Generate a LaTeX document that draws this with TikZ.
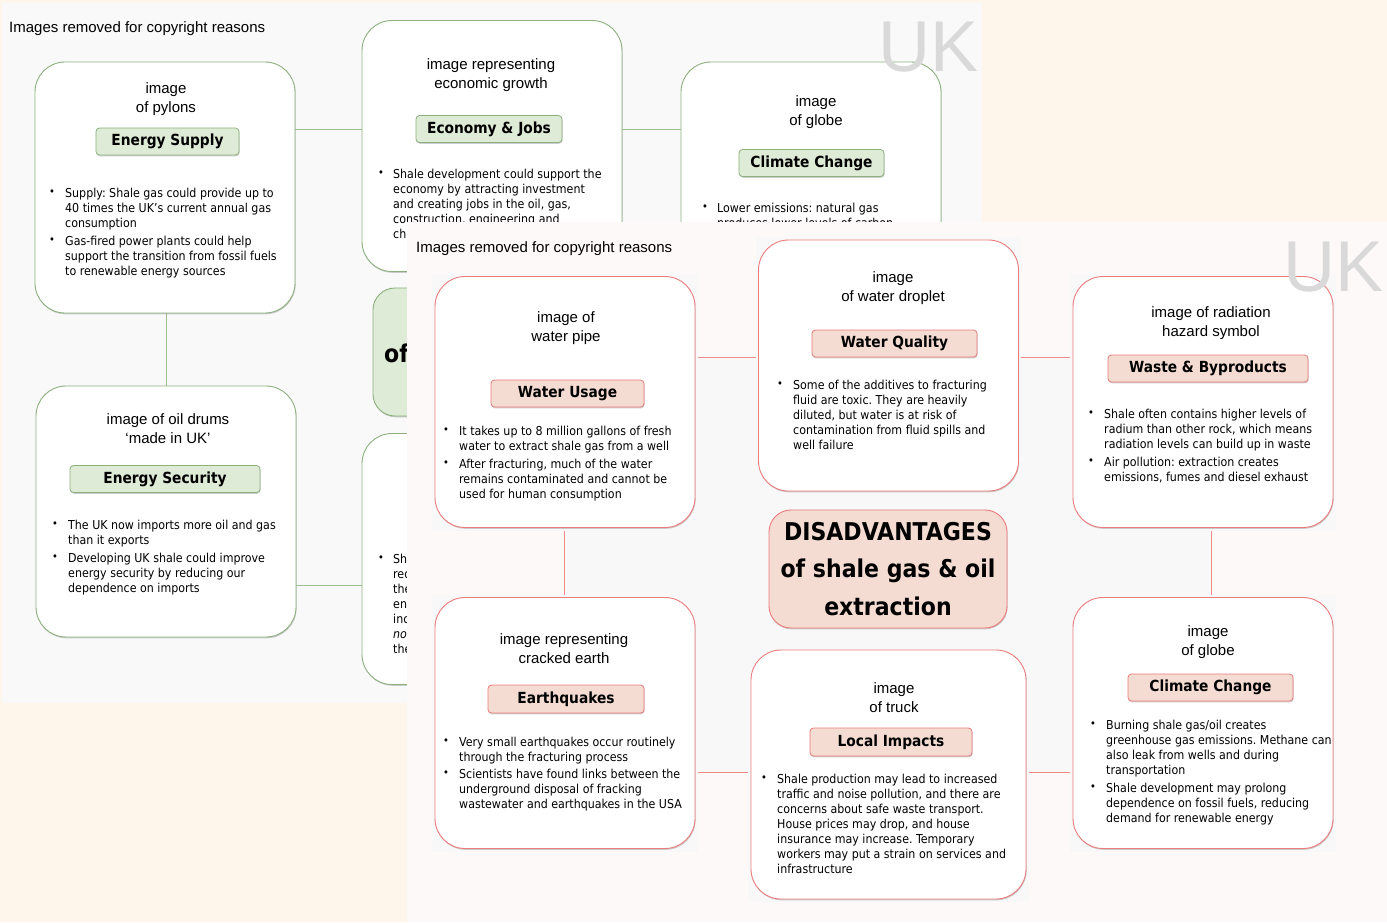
\documentclass[tikz,border=0pt]{standalone}
\usepackage{fontspec}
\setmainfont{Liberation Sans}
\IfFontExistsTF{DejaVu Sans Condensed}{\newfontfamily\tah{DejaVu Sans Condensed}}{\newfontfamily\tah{DejaVu Sans}[Scale=0.9]}
\usetikzlibrary{shadows}
\frenchspacing
\definecolor{cream}{HTML}{FEF6EA}
\definecolor{backbg}{HTML}{F9F9F9}
\definecolor{frontbg}{HTML}{FDF9F8}
\definecolor{rectbg}{HTML}{F8F8F8}
\definecolor{gline}{HTML}{9CBF8F}
\definecolor{gborder}{HTML}{8DB07F}
\definecolor{glab}{HTML}{DEEBD6}
\definecolor{rline}{HTML}{F08A8A}
\definecolor{rborder}{HTML}{EC7B7B}
\definecolor{rlab}{HTML}{F4DCD2}
\definecolor{ukgray}{HTML}{D9D9D9}
\tikzset{
  shad/.style={drop shadow={shadow xshift=0.6pt, shadow yshift=-1.3pt, opacity=0.35, fill=black!55}},
  bigbox/.style={draw, line width=0.9pt, fill=white, rounded corners=30pt, minimum width=260pt, minimum height=251pt, inner sep=0pt, shad},
  gbox/.style={bigbox, draw=gborder},
  rbox/.style={bigbox, draw=rborder},
  lab/.style={rounded corners=3.5pt, line width=0.8pt, minimum height=27pt, inner sep=0pt, font=\tah\bfseries\fontsize{15.3}{18}\selectfont, shad},
  glabel/.style={lab, draw=gborder, fill=glab},
  rlabel/.style={lab, draw=rborder, fill=rlab},
  imgtxt/.style={align=center, inner sep=0pt, font=\fontsize{15}{19}\selectfont},
  btxt/.style={align=left, anchor=north west, inner sep=0pt, font=\tah\frenchspacing\fontsize{12.3}{15}\selectfont},
  bul/.style={inner sep=0pt, font=\tah\fontsize{11}{11}\selectfont},
  titlebox/.style={draw, line width=0.9pt, rounded corners=22pt, inner sep=0pt, align=center, font=\tah\bfseries\fontsize{24.5}{37.5}\selectfont, shad},
  ttxt/.style={inner sep=0pt, font=\tah\bfseries\fontsize{24.5}{37.5}\selectfont},
  uk/.style={anchor=base west, inner sep=0pt, text=ukgray, font=\fontsize{72}{72}\selectfont},
  note/.style={anchor=base west, inner sep=0pt, font=\fontsize{15}{17}\selectfont},
  backdrop/.style={fill=rectbg, draw=none}
}
\begin{document}
\begin{tikzpicture}[x=1pt, y=-1pt]
\useasboundingbox (0,0) rectangle (1387,922);
\fill[cream] (0,0) rectangle (1387,922);
% ================= BACK SLIDE =================
\fill[backbg] (2,3) rectangle (982,703);
\node[note] (bnote) at (9,32) {Images removed for copyright reasons};
\coordinate (bA) at (166,129);
\coordinate (bB) at (811,129);
\coordinate (bC) at (811,585);
\coordinate (bD) at (166,585);
\draw[gline, line width=1pt] (bA) -- (bB) -- (bC) -- (bD) -- cycle;

\node[gbox] (es) at (165,187.5) {};
\node[imgtxt] (esi) at (166,99) {image\\of pylons};
\node[glabel, minimum width=143pt] (esl) at (167.5,141.5) {Energy Supply};
\node[bul] (esb1) at (52,193) {•};
\node[btxt] (est1) at (65,187.5) {Supply: Shale gas could provide up to\\40 times the UK’s current annual gas\\consumption};
\node[bul] (esb2) at (52,241) {•};
\node[btxt] (est2) at (65,235.5) {Gas-fired power plants could help\\support the transition from fossil fuels\\to renewable energy sources};

\node[gbox] (ej) at (492,146) {};
\node[imgtxt] (eji) at (491,75) {image representing\\economic growth};
\node[glabel, minimum width=146pt] (ejl) at (489,129) {Economy \& Jobs};
\node[bul] (ejb1) at (381,174) {•};
\node[btxt] (ejt1) at (393,168.5) {Shale development could support the\\economy by attracting investment\\and creating jobs in the oil, gas,\\construction, engineering and\\ch};

\node[gbox] (bcc) at (811,187.5) {};
\node[imgtxt] (bcci) at (816,112) {image\\of globe};
\node[glabel, minimum width=145pt] (bccl) at (811.5,163) {Climate Change};
\node[bul] (bccb1) at (705,208) {•};
\node[btxt] (bcct1) at (717,202.5) {Lower emissions: natural gas\\produces lower levels of carbon};

\node[gbox] (sec) at (166,511.5) {};
\node[imgtxt] (seci) at (168,428.5) {image of oil drums\\‘made in UK’};
\node[glabel, minimum width=190pt] (secl) at (165,479) {Energy Security};
\node[bul] (secb1) at (55,525) {•};
\node[btxt] (sect1) at (68,519.5) {The UK now imports more oil and gas\\than it exports};
\node[bul] (secb2) at (55,558) {•};
\node[btxt] (sect2) at (68,552.5) {Developing UK shale could improve\\energy security by reducing our\\dependence on imports};

\node[titlebox, draw=gborder, fill=glab, minimum width=238pt, minimum height=128pt] (btitle) at (492,352) {};
\node[ttxt, anchor=west] (btof) at (384,353) {of};

\node[gbox] (bm) at (492,559) {};
\node[bul] (bmb1) at (381,559) {•};
\node[btxt] (bmt1) at (393,553.5) {Sha\\red\\the\\en\\inc\\\textit{no}\\the};

% ================= FRONT SLIDE =================
\fill[frontbg] (407,222) rectangle (1387,922);
\node[note] (fnote) at (416,252) {Images removed for copyright reasons};
\coordinate (rA) at (564,357);
\coordinate (rB) at (1211,357);
\coordinate (rC) at (1211,772);
\coordinate (rD) at (564,772);
\draw[rline, line width=1pt, fill=rectbg] (rA) -- (rB) -- (rC) -- (rD) -- cycle;

% backdrops
\fill[backdrop] (432,274) rectangle (698,531);
\fill[backdrop] (756,237) rectangle (1021,494);
\fill[backdrop] (1070,274) rectangle (1336,531);
\fill[backdrop] (432,595) rectangle (698,852);
\fill[backdrop] (748,647) rectangle (1029,902);
\fill[backdrop] (1070,595) rectangle (1336,852);
\fill[backdrop] (762,506) rectangle (1017,642);

\node[rbox] (wu) at (565,402) {};
\node[imgtxt] (wui) at (566,328.5) {image of\\water pipe};
\node[rlabel, minimum width=153pt] (wul) at (567.5,393.5) {Water Usage};
\node[bul] (wub1) at (446,431) {•};
\node[btxt] (wut1) at (459,425.5) {It takes up to 8 million gallons of fresh\\water to extract shale gas from a well};
\node[bul] (wub2) at (446,464) {•};
\node[btxt] (wut2) at (459,458.5) {After fracturing, much of the water\\remains contaminated and cannot be\\used for human consumption};

\node[rbox] (wq) at (888.5,365.5) {};
\node[imgtxt] (wqi) at (893,288.5) {image\\of water droplet};
\node[rlabel, minimum width=165pt] (wql) at (894.5,343.5) {Water Quality};
\node[bul] (wqb1) at (780,385) {•};
\node[btxt] (wqt1) at (793,379.5) {Some of the additives to fracturing\\fluid are toxic. They are heavily\\diluted, but water is at risk of\\contamination from fluid spills and\\well failure};

\node[rbox] (wb) at (1203,402) {};
\node[imgtxt] (wbi) at (1211,323.5) {image of radiation\\hazard symbol};
\node[rlabel, minimum width=200pt] (wbl) at (1208,368.5) {Waste \& Byproducts};
\node[bul] (wbb1) at (1091,414) {•};
\node[btxt] (wbt1) at (1104,408.5) {Shale often contains higher levels of\\radium than other rock, which means\\radiation levels can build up in waste};
\node[bul] (wbb2) at (1091,462) {•};
\node[btxt] (wbt2) at (1104,456.5) {Air pollution: extraction creates\\emissions, fumes and diesel exhaust};

\node[rbox] (eq) at (565,723) {};
\node[imgtxt] (eqi) at (564,648.5) {image representing\\cracked earth};
\node[rlabel, minimum width=156pt, minimum height=28pt] (eql) at (566,699) {Earthquakes};
\node[bul] (eqb1) at (446,742) {•};
\node[btxt] (eqt1) at (459,736.5) {Very small earthquakes occur routinely\\through the fracturing process};
\node[bul] (eqb2) at (446,774) {•};
\node[btxt] (eqt2) at (459,768.5) {Scientists have found links between the\\underground disposal of fracking\\wastewater and earthquakes in the USA};

\node[rbox, minimum width=275pt, minimum height=249pt] (li) at (888.5,774.5) {};
\node[imgtxt] (lii) at (894,697.5) {image\\of truck};
\node[rlabel, minimum width=162pt, minimum height=28pt] (lil) at (891,742) {Local Impacts};
\node[bul] (lib1) at (764,779) {•};
\node[btxt] (lit1) at (777,773.5) {Shale production may lead to increased\\traffic and noise pollution, and there are\\concerns about safe waste transport.\\House prices may drop, and house\\insurance may increase. Temporary\\workers may put a strain on services and\\infrastructure};

\node[rbox] (fcc) at (1203,723) {};
\node[imgtxt] (fcci) at (1208,642.5) {image\\of globe};
\node[rlabel, minimum width=165pt] (fccl) at (1210.5,687.5) {Climate Change};
\node[bul] (fccb1) at (1093,725) {•};
\node[btxt] (fcct1) at (1106,719.5) {Burning shale gas/oil creates\\greenhouse gas emissions. Methane can\\also leak from wells and during\\transportation};
\node[bul] (fccb2) at (1093,788) {•};
\node[btxt] (fcct2) at (1106,782.5) {Shale development may prolong\\dependence on fossil fuels, reducing\\demand for renewable energy};

\node[titlebox, draw=rborder, fill=rlab, minimum width=238pt, minimum height=118pt] (ftitle) at (888,569) {DISADVANTAGES\\of shale gas \& oil\\extraction};

% watermarks on top
\begin{scope}
\clip (0,0) rectangle (982,222);
\node[uk] (buk) at (878,71) {UK};
\end{scope}
\node[uk] (fuk) at (1283,291) {UK};
\end{tikzpicture}
\end{document}
